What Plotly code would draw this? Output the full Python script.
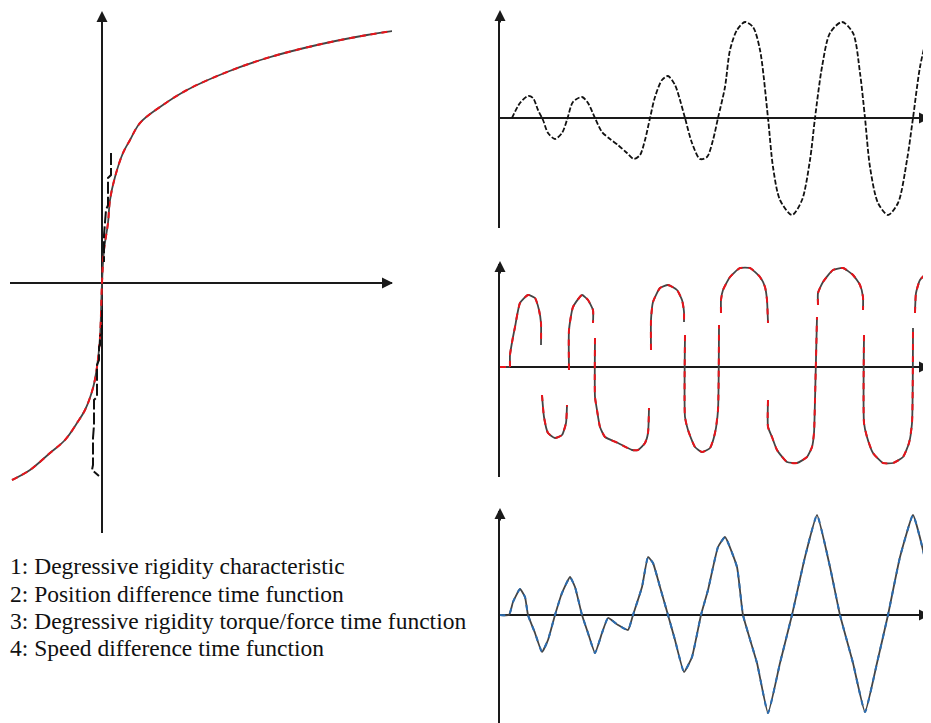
import plotly.graph_objects as go

# ---------------- data ----------------
# Panel 1: degressive rigidity characteristic (x = position difference, y = torque)
char_x = [-0.90, -0.72, -0.52, -0.37, -0.25, -0.17, -0.09, -0.05, -0.02, 0.00,
          0.02, 0.06, 0.08, 0.13, 0.21, 0.28, 0.38, 0.58, 0.85, 1.25, 1.65, 2.15, 2.65, 2.91]
char_y = [-1.97, -1.87, -1.70, -1.57, -1.40, -1.27, -1.05, -0.84, -0.54, 0.00,
          0.33, 0.60, 0.83, 1.06, 1.30, 1.43, 1.60, 1.76, 1.93, 2.11, 2.25, 2.38, 2.48, 2.52]
# black stepped trace near the vertical axis
step_x = [0.09, 0.09, 0.06, 0.06, 0.04, 0.02, 0.02, None,
          0.00, 0.00, -0.02, -0.02, -0.03, -0.03, -0.05, -0.05, -0.08, -0.08, -0.09, -0.09, -0.10, -0.03]
step_y = [1.30, 1.08, 1.05, 0.78, 0.73, 0.48, 0.21, None,
          -0.27, -0.50, -0.53, -0.62, -0.64, -0.77, -0.82, -1.14, -1.17, -1.42, -1.55, -1.82, -1.87, -1.93]

# Panel 2: position difference time function
pos_t = [12, 20, 28, 33, 38, 43, 48, 55, 62, 67, 73, 82, 88, 95, 102, 110, 118, 127, 134, 140,
         145, 150, 155, 162, 168, 175, 180, 185, 192, 200, 207, 213, 218, 225, 230, 237, 245, 253,
         260, 268, 273, 280, 292, 302, 310, 315, 322, 330, 342, 353, 360, 365, 370, 378, 388, 398,
         407, 413, 420, 427, 431]
pos_a = [0, 0.15, 0.22, 0.20, 0.08, -0.02, -0.15, -0.21, -0.15, -0.02, 0.16, 0.21, 0.15, 0,
         -0.14, -0.21, -0.27, -0.35, -0.41, -0.37, -0.22, 0, 0.21, 0.38, 0.42, 0.33, 0.18, 0,
         -0.25, -0.41, -0.39, -0.22, 0, 0.31, 0.68, 0.88, 0.96, 0.91, 0.68, 0, -0.49, -0.82,
         -0.97, -0.82, -0.42, 0, 0.51, 0.85, 0.96, 0.85, 0.45, 0, -0.49, -0.85, -0.97, -0.85,
         -0.42, 0, 0.51, 0.81, 0.91]

# Panel 3: degressive rigidity torque/force time function (segments separated by None)
torq_t = [0, 10, None,
          10, 10, 13, 15, 20, 28, 35, 39, 41, 41, None,
          42, 44, 48, 55, 62, 66, 67, None,
          69, 69, 73, 82, 88, 93, 93, None,
          95, 95, 97, 100, 105, 118, 132, 138, 145, 148, 149, None,
          151, 151, 153, 160, 168, 177, 182, 184, 184, None,
          185, 185, 188, 195, 202, 210, 215, 218, 219, None,
          221, 221, 223, 230, 240, 250, 260, 265, 267, 268, None,
          268, 268, 272, 277, 287, 297, 307, 312, 314, 315, 317, None,
          318, 318, 323, 333, 343, 353, 360, 363, 363, None,
          364, 364, 367, 373, 383, 393, 403, 409, 412, 413, None,
          415, 416, 420, 430]
torq_a = [0, 0, None,
          0, 0.12, 0.30, 0.40, 0.64, 0.72, 0.69, 0.57, 0.44, 0.22, None,
          -0.28, -0.50, -0.66, -0.71, -0.68, -0.56, -0.38, None,
          -0.03, 0.37, 0.60, 0.72, 0.67, 0.57, 0.44, None,
          0.29, -0.30, -0.43, -0.60, -0.70, -0.76, -0.83, -0.83, -0.76, -0.66, -0.41, None,
          0.17, 0.47, 0.65, 0.79, 0.82, 0.77, 0.67, 0.55, 0.45, None,
          0.32, -0.50, -0.63, -0.80, -0.85, -0.81, -0.66, -0.43, 0.42, None,
          0.54, 0.67, 0.77, 0.90, 0.99, 0.99, 0.90, 0.80, 0.67, 0.44, None,
          -0.33, -0.60, -0.70, -0.83, -0.95, -0.96, -0.90, -0.80, -0.66, -0.33, 0.50, None,
          0.62, 0.74, 0.85, 0.97, 0.99, 0.92, 0.82, 0.70, 0.57, None,
          0.32, -0.56, -0.70, -0.86, -0.96, -0.96, -0.90, -0.76, -0.56, 0.39, None,
          0.54, 0.74, 0.87, 0.97]

# Panel 4: speed difference time function
spd_t = [0, 9, 13, 20, 25, 28, 35, 42, 48, 55, 62, 70, 75, 82, 88, 95, 102, 108, 118, 128, 133,
         142, 148, 153, 160, 168, 175, 184, 192, 201, 208, 218, 225, 237, 243, 257, 268, 280, 292,
         305, 317, 330, 340, 353, 365, 377, 388, 400, 413, 423, 430]
spd_a = [0, 0, 0.13, 0.26, 0.18, 0, -0.18, -0.37, -0.25, 0, 0.22, 0.38, 0.28, 0, -0.18, -0.38,
         -0.18, -0.03, -0.10, -0.15, 0, 0.28, 0.58, 0.52, 0.28, 0, -0.25, -0.57, -0.42, 0, 0.25,
         0.68, 0.78, 0.48, 0, -0.48, -0.98, -0.48, 0, 0.58, 1.00, 0.48, 0, -0.48, -0.97, -0.48, 0,
         0.58, 1.00, 0.65, 0.28]

legend_lines = [
    "1: Degressive rigidity characteristic",
    "2: Position difference time function",
    "3: Degressive rigidity torque/force time function",
    "4: Speed difference time function",
]

# ---------------- layout helpers ----------------
# the page body adds an 8 px margin, so the figure is shrunk and shifted to compensate
OFF = 8
W, H = 931 - OFF, 723 - OFF
def fx(p):
    return (p - OFF) / W
def fy(p):
    return 1 - (p - OFF) / H

RED = "#e8141b"
GRAY = "#444444"
BLUE = "#2b6cb0"
AX = "#1a1a1a"

fig = go.Figure()

# Panel 1
fig.add_trace(go.Scatter(x=char_x, y=char_y, mode="lines", xaxis="x", yaxis="y",
                         line=dict(color=GRAY, width=1.8, shape="spline", smoothing=1.0)))
fig.add_trace(go.Scatter(x=char_x, y=char_y, mode="lines", xaxis="x", yaxis="y",
                         line=dict(color=RED, width=2, shape="spline", smoothing=1.0, dash="6px,5px")))
fig.add_trace(go.Scatter(x=step_x, y=step_y, mode="lines", xaxis="x", yaxis="y",
                         line=dict(color="#111", width=2, dash="12px,3px")))

# Panel 2
fig.add_trace(go.Scatter(x=pos_t, y=pos_a, mode="lines", xaxis="x2", yaxis="y2",
                         line=dict(color="#111", width=1.8, shape="spline", smoothing=0.8, dash="5px,2px")))

# Panel 3
fig.add_trace(go.Scatter(x=torq_t, y=torq_a, mode="lines", xaxis="x3", yaxis="y3",
                         line=dict(color=GRAY, width=1.8, shape="spline", smoothing=0.5)))
fig.add_trace(go.Scatter(x=torq_t, y=torq_a, mode="lines", xaxis="x3", yaxis="y3",
                         line=dict(color=RED, width=2, shape="spline", smoothing=0.5, dash="6px,6px")))

# Panel 4
fig.add_trace(go.Scatter(x=spd_t, y=spd_a, mode="lines", xaxis="x4", yaxis="y4",
                         line=dict(color=GRAY, width=1.8, shape="spline", smoothing=0.4)))
fig.add_trace(go.Scatter(x=spd_t, y=spd_a, mode="lines", xaxis="x4", yaxis="y4",
                         line=dict(color=BLUE, width=2, shape="spline", smoothing=0.4, dash="5px,6px")))

hidden = dict(showgrid=False, showticklabels=False, ticks="", showline=False, zeroline=False,
              fixedrange=True)

layout = dict(
    width=W, height=H, margin=dict(l=0, r=0, t=0, b=0),
    paper_bgcolor="white", plot_bgcolor="white", showlegend=False,
    # panel 1
    xaxis=dict(hidden, domain=[fx(10), fx(392)], range=[-0.92, 2.90], zeroline=True,
               zerolinecolor=AX, zerolinewidth=2, anchor="y"),
    yaxis=dict(hidden, domain=[fy(533), fy(14)], range=[-2.50, 2.69], zeroline=True,
               zerolinecolor=AX, zerolinewidth=2, anchor="x"),
    # panel 2
    xaxis2=dict(hidden, domain=[fx(500), 1.0], range=[0, 431], anchor="y2"),
    yaxis2=dict(hidden, domain=[fy(228), fy(14)], range=[-1.10, 1.04], zeroline=True,
                zerolinecolor=AX, zerolinewidth=2, showline=True, linecolor=AX, linewidth=2,
                anchor="x2"),
    # panel 3
    xaxis3=dict(hidden, domain=[fx(500), 1.0], range=[0, 431], anchor="y3"),
    yaxis3=dict(hidden, domain=[fy(477), fy(264)], range=[-1.10, 1.03], zeroline=True,
                zerolinecolor=AX, zerolinewidth=2, showline=True, linecolor=AX, linewidth=2,
                anchor="x3"),
    # panel 4
    xaxis4=dict(hidden, domain=[fx(500), 1.0], range=[0, 431], anchor="y4"),
    yaxis4=dict(hidden, domain=[0, fy(511)], range=[-1.08, 1.04], zeroline=True,
                zerolinecolor=AX, zerolinewidth=2, showline=True, linecolor=AX, linewidth=2,
                anchor="x4"),
)

annotations = []
def arrow(px, py, ax, ay):
    annotations.append(dict(x=fx(px), y=fy(py), xref="paper", yref="paper", text="",
                            showarrow=True, ax=ax, ay=ay, arrowhead=2, arrowsize=1.1,
                            arrowwidth=2, arrowcolor=AX))

# axis arrow heads
arrow(102, 11, 0, 14)
arrow(393, 283, -14, 0)
arrow(500, 10, 0, 14)
arrow(930, 118, -14, 0)
arrow(500, 261, 0, 14)
arrow(930, 367, -14, 0)
arrow(500, 508, 0, 14)
arrow(930, 615, -14, 0)

line_y = [566, 594, 621, 648]
for txt, yy in zip(legend_lines, line_y):
    annotations.append(dict(x=fx(9), y=fy(yy), xref="paper", yref="paper", text=txt,
                            showarrow=False, xanchor="left", yanchor="middle", borderpad=0,
                            font=dict(family="Liberation Serif", size=23.5, color="#111")))

layout["annotations"] = annotations
fig.update_layout(**layout)
fig.write_html("out.html")
